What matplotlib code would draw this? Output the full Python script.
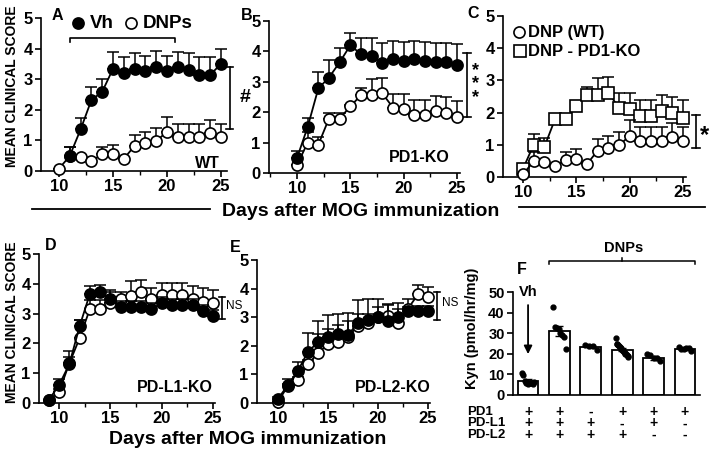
import numpy as np
import matplotlib
matplotlib.use('Agg')
import matplotlib.pyplot as plt
from matplotlib.lines import Line2D
from matplotlib.ticker import MultipleLocator
from matplotlib.transforms import blended_transform_factory

plt.rcParams['font.family'] = ['Liberation Sans', 'DejaVu Sans']
plt.rcParams['font.weight'] = 'bold'

# ---- data ----
# panel A (WT): Vh vs DNPs
a_vh_days = list(range(11, 26))
a_vh = [0.5, 1.36, 2.32, 2.59, 3.34, 3.19, 3.34, 3.28, 3.41, 3.28, 3.41, 3.3, 3.14, 3.14, 3.5]
a_vh_sem = [0.28, 0.36, 0.44, 0.41, 0.56, 0.55, 0.51, 0.48, 0.52, 0.48, 0.49, 0.55, 0.58, 0.58, 0.5]
wt_days = list(range(10, 26))
wt_dnp = [0.08, 0.49, 0.46, 0.33, 0.54, 0.55, 0.4, 0.82, 0.9, 0.98, 1.28, 1.12, 1.12, 1.12, 1.23, 1.12]
wt_dnp_sem = [0.0, 0.3, 0.05, 0.05, 0.23, 0.31, 0.05, 0.35, 0.36, 0.41, 0.49, 0.43, 0.43, 0.43, 0.45, 0.43]

# panel B (PD1-KO)
b_days = list(range(10, 26))
b_vh = [0.49, 1.51, 2.78, 3.14, 3.64, 4.2, 3.91, 3.85, 3.62, 3.74, 3.69, 3.74, 3.69, 3.64, 3.64, 3.55]
b_vh_sem = [0.25, 0.29, 0.55, 0.57, 0.48, 0.39, 0.53, 0.59, 0.66, 0.6, 0.62, 0.6, 0.62, 0.64, 0.64, 0.69]
pd1_dnp = [0.25, 1.0, 0.93, 1.79, 1.79, 2.19, 2.56, 2.56, 2.62, 2.15, 2.12, 1.9, 1.9, 2.04, 1.98, 1.83]
pd1_dnp_sem = [0.02, 0.35, 0.27, 0.18, 0.18, 0.05, 0.25, 0.52, 0.5, 0.45, 0.48, 0.5, 0.5, 0.5, 0.51, 0.55]

# panel D (PD-L1-KO)
d_days = list(range(9, 26))
d_vh = [0.1, 0.6, 1.3, 2.57, 3.66, 3.74, 3.49, 3.21, 3.21, 3.21, 3.15, 3.35, 3.28, 3.28, 3.3, 3.08, 2.92]
d_vh_sem = [0.0, 0.22, 0.45, 0.22, 0.25, 0.23, 0.25, 0.2, 0.2, 0.2, 0.2, 0.2, 0.2, 0.2, 0.2, 0.2, 0.2]
d_dnp = [0.1, 0.37, 1.33, 2.17, 3.15, 3.15, 3.35, 3.48, 3.6, 3.71, 3.49, 3.63, 3.63, 3.63, 3.49, 3.4, 3.35]
d_dnp_sem = [0.0, 0.1, 0.2, 0.6, 0.31, 0.3, 0.43, 0.26, 0.48, 0.42, 0.36, 0.39, 0.39, 0.39, 0.44, 0.45, 0.45]

# panel E (PD-L2-KO)
e_days = list(range(10, 26))
e_vh = [0.15, 0.63, 1.13, 1.8, 2.12, 2.3, 2.42, 2.38, 2.8, 2.9, 3.0, 2.88, 3.0, 3.2, 3.2, 3.2]
e_vh_sem = [0.05, 0.21, 0.32, 0.64, 0.76, 0.78, 0.68, 0.76, 0.8, 0.73, 0.63, 0.55, 0.5, 0.15, 0.2, 0.2]
e_dnp = [0.05, 0.6, 0.82, 1.35, 1.75, 2.05, 2.15, 2.32, 2.7, 2.78, 3.0, 3.05, 2.8, 3.3, 3.8, 3.72]
e_dnp_sem = [0.0, 0.05, 0.1, 0.15, 0.65, 0.55, 0.57, 0.53, 0.4, 0.32, 0.35, 0.4, 0.5, 0.35, 0.32, 0.33]

# panel F: kynurenine
kyn_mean = [6.8, 31.0, 23.4, 22.0, 18.1, 22.4]
kyn_sem = [0.9, 2.3, 0.7, 0.7, 0.9, 0.3]
kyn_points = [
    [10.6, 9.6, 7.0, 5.8, 5.1, 5.8, 5.8, 5.1, 6.4],
    [42.7, 33.0, 32.4, 32.0, 30.0, 29.2, 28.2, 22.2],
    [24.1, 23.7, 24.0, 21.7],
    [27.8, 25.0, 25.0, 24.5, 23.7, 23.5, 23.0, 22.5, 21.8, 21.4, 20.9, 20.5, 20.0, 19.9, 19.5, 19.0, 18.6],
    [19.9, 19.2, 17.9, 17.9, 16.7],
    [23.1, 22.4, 22.2, 22.7, 22.7, 21.4],
]
kyn_ticks = [0, 10, 20, 30, 40, 50]
pd1_flags = ['+', '+', '-', '+', '+', '+']
pdl1_flags = ['+', '+', '+', '-', '+', '-']
pdl2_flags = ['+', '+', '+', '+', '-', '-']

W, H = 711, 453
fig = plt.figure(figsize=(W / 100, H / 100), dpi=100)


def px(x, y, w, h):
    return [x / W, 1 - (y + h) / H, w / W, h / H]


def ftext(x, y, s, **kw):
    kw.setdefault('ha', 'center')
    kw.setdefault('va', 'center')
    fig.text(x / W, 1 - y / H, s, **kw)


def fmark(x, y, **kw):
    fig.add_artist(Line2D([x / W], [1 - y / H], color='black', **kw))


def fline(xs, ys, lw=1.3):
    fig.add_artist(Line2D([v / W for v in xs], [1 - v / H for v in ys], color='black', lw=lw))


def score_axes(rect, xlim):
    ax = fig.add_axes(px(*rect))
    ax.set_xlim(*xlim)
    ax.set_ylim(0, 5)
    ax.spines[['top', 'right']].set_visible(False)
    ax.spines[['left', 'bottom']].set_linewidth(1.2)
    ax.xaxis.set_major_locator(MultipleLocator(5))
    ax.xaxis.set_minor_locator(MultipleLocator(2.5))
    ax.set_yticks(range(6))
    ax.tick_params(labelsize=12, width=1.2, length=4, pad=2)
    ax.tick_params(which='minor', length=3, width=1)
    return ax


def series(ax, days, mean, sem, marker='o', filled=True, ms=8, z=3):
    face = 'black' if filled else 'white'
    ax.errorbar(days, mean, yerr=[np.zeros(len(sem)), sem], fmt='none', ecolor='black',
                elinewidth=1.1, capsize=4.5, capthick=1.1, zorder=z, clip_on=False)
    ax.plot(days, mean, '-', color='black', lw=1.3, marker=marker, ms=ms, mfc=face,
            mec='black', mew=1.2, zorder=z + 1, clip_on=False)


def sig(ax, x, y0, y1, cap=0.35):
    kw = dict(color='black', lw=1.2, clip_on=False)
    ax.plot([x, x], [y0, y1], **kw)
    ax.plot([x - cap, x + cap], [y0, y0], **kw)
    ax.plot([x - cap, x + cap], [y1, y1], **kw)


# ---- A ----
axA = score_axes((41, 18, 186, 153), (8.33, 25.56))
series(axA, wt_days, wt_dnp, wt_dnp_sem, filled=False, z=3)
series(axA, a_vh_days, a_vh, a_vh_sem, filled=True, z=5)
axA.plot([11, 11, 20.7, 20.7], [4.2, 4.35, 4.35, 4.2], color='black', lw=1.2)
sig(axA, 25.8, 1.37, 3.4)
ftext(245, 98, '#', fontsize=14)
ftext(207, 163, 'WT', fontsize=11.5)
fmark(78, 23, marker='o', ms=8, mfc='black', mew=1.2)
ftext(90, 23, 'Vh', fontsize=13.5, ha='left')
fmark(131, 23, marker='o', ms=8, mfc='white', mew=1.2)
ftext(143, 23, 'DNPs', fontsize=13.5, ha='left')

# ---- B ----
axB = score_axes((269, 21, 191, 152), (7.38, 25.28))
series(axB, b_days, pd1_dnp, pd1_dnp_sem, filled=False, z=3)
series(axB, b_days, b_vh, b_vh_sem, filled=True, z=5)
sig(axB, 25.93, 1.84, 3.95)
ftext(476, 84, '*\n*\n*', fontsize=13, linespacing=0.75)
ftext(419, 157, 'PD1-KO', fontsize=11.5)

# ---- C ----
axC = score_axes((503, 16, 183, 161), (8.13, 25.28))
series(axC, wt_days, wt_dnp, wt_dnp_sem, filled=False, z=5)
series(axC, b_days, pd1_dnp, pd1_dnp_sem, marker='s', filled=False, ms=9, z=3)
sig(axC, 26.2, 0.9, 1.93)
ftext(705, 136, '*', fontsize=17)
fmark(519, 32, marker='o', ms=8, mfc='white', mew=1.2)
ftext(528, 32, 'DNP (WT)', fontsize=12, ha='left')
fmark(520, 51, marker='s', ms=9, mfc='white', mew=1.2)
ftext(528, 51, 'DNP - PD1-KO', fontsize=12, ha='left')

# ---- D ----
axD = score_axes((39, 254, 176, 149), (8.05, 25.19))
series(axD, d_days, d_dnp, d_dnp_sem, filled=False, z=3)
series(axD, d_days, d_vh, d_vh_sem, filled=True, z=5)
sig(axD, 25.87, 2.82, 3.56, cap=0.3)
ftext(226, 306, 'NS', fontsize=8.5, ha='left', fontweight='normal')
ftext(175, 388, 'PD-L1-KO', fontsize=11.5)

# ---- E ----
axE = score_axes((257, 260, 173, 143), (7.9, 25.2))
series(axE, e_days, e_dnp, e_dnp_sem, filled=False, z=3)
series(axE, e_days, e_vh, e_vh_sem, filled=True, z=5)
sig(axE, 25.9, 2.9, 3.88, cap=0.3)
ftext(442, 303, 'NS', fontsize=8.5, ha='left', fontweight='normal')
ftext(393, 388, 'PD-L2-KO', fontsize=11.5)

# ---- F ----
axF = fig.add_axes(px(513, 292, 187, 103))
xs = np.arange(len(kyn_mean))
axF.bar(xs, kyn_mean, width=0.66, facecolor='white', edgecolor='black', lw=1.3, zorder=2)
axF.errorbar(xs, kyn_mean, yerr=kyn_sem, fmt='none', ecolor='black', elinewidth=1,
             capsize=3, capthick=1, zorder=3)
for i, pts in enumerate(kyn_points):
    offs = np.linspace(-0.2, 0.2, len(pts))
    axF.plot(i + offs, pts, 'o', ms=3.5, color='black', zorder=4, clip_on=False)
axF.set_xlim(-0.48, 5.48)
axF.set_ylim(0, 50)
axF.set_yticks(kyn_ticks)
axF.set_xticks([])
axF.spines[['top', 'right']].set_visible(False)
axF.spines[['left', 'bottom']].set_linewidth(1.2)
axF.tick_params(axis='y', width=1.2, length=4, labelsize=10.5, pad=2)
axF.annotate('', xy=(0, 18.5), xytext=(0, 45), annotation_clip=False,
             arrowprops=dict(arrowstyle='-|>', color='black', lw=1.3, mutation_scale=12))
axF.text(0, 50, 'Vh', ha='center', va='center', fontsize=10.5)
axF.plot([0.67, 0.67, 5.32, 5.32], [63.5, 65, 65, 63.5], color='black', lw=1.1, clip_on=False)
axF.plot([3.0, 3.0], [65, 66.6], color='black', lw=1.1, clip_on=False)
axF.text(3.05, 71.4, 'DNPs', ha='center', va='center', fontsize=10.5)

tr = blended_transform_factory(axF.transData, fig.transFigure)
for row_y, name, flags in [(412, 'PD1', pd1_flags), (423.5, 'PD-L1', pdl1_flags), (435, 'PD-L2', pdl2_flags)]:
    ftext(467, row_y, name, fontsize=9.5, ha='left')
    for i, f in enumerate(flags):
        axF.text(i, 1 - row_y / H, f, transform=tr, ha='center', va='center', fontsize=10)

# ---- shared labels ----
ftext(12, 86, 'MEAN CLINICAL SCORE', fontsize=10, rotation=90)
ftext(12, 322, 'MEAN CLINICAL SCORE', fontsize=10, rotation=90)
ftext(472, 328, 'Kyn (pmol/hr/mg)', fontsize=10.5, rotation=90)
ftext(361, 212, 'Days after MOG immunization', fontsize=14)
fline([32, 210], [209, 209])
fline([519, 705], [207, 207])
ftext(248, 440, 'Days after MOG immunization', fontsize=14)

for s, x, y in [('A', 57, 15), ('B', 247, 15), ('C', 473, 13), ('D', 51, 246), ('E', 235, 248), ('F', 522, 270)]:
    ftext(x, y, s, fontsize=11.5)

fig.savefig('out.png', dpi=100)
